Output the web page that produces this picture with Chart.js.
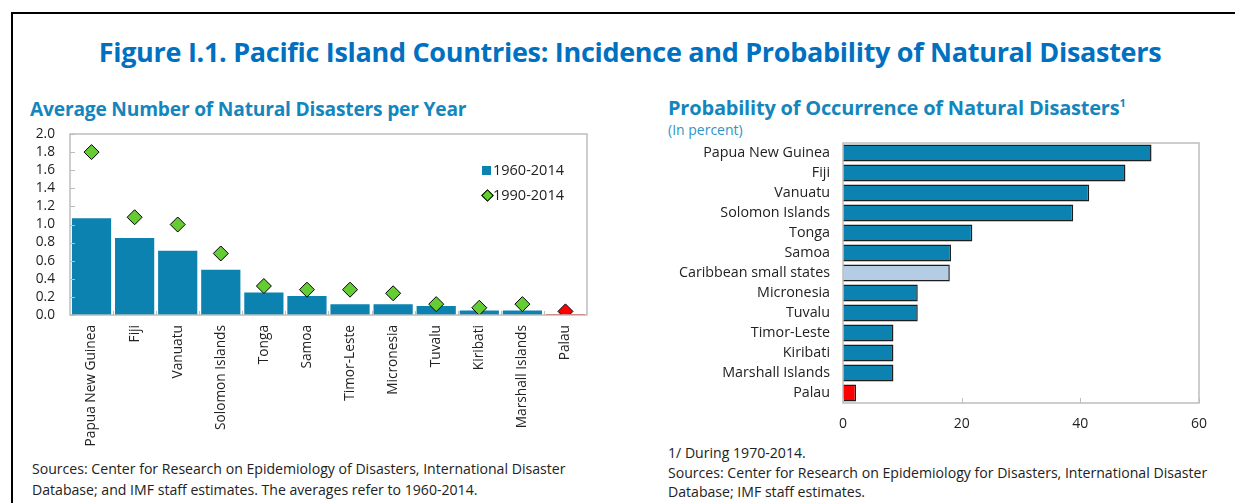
<!DOCTYPE html>
<html>
<head>
<meta charset="utf-8">
<script src="https://cdn.jsdelivr.net/npm/chart.js@4.4.1/dist/chart.umd.min.js"></script>
<style>
  html, body { margin:0; padding:0; background:#fff; }
  body { width:1235px; height:503px; position:relative; overflow:hidden; font-family:"Open Sans", "Noto Sans", sans-serif; }
  .frameTop { position:absolute; left:11px; top:12px; width:1224px; height:2px; background:#000; }
  .frameLeft { position:absolute; left:11px; top:12px; width:2px; height:491px; background:#000; }
  .t { position:absolute; white-space:nowrap; }
  #mainTitle { left:0; width:1260px; text-align:center; top:33px; font-size:27px; font-weight:700; color:#0070C0; letter-spacing:-0.3px; }
  .sub { font-weight:700; color:#1486BE; letter-spacing:-0.2px; }
  .sub sup { font-size:11px; vertical-align:8px; }
  #unit { left:668px; top:120px; font-size:14px; color:#2E95C4; }
  .note { font-size:14.1px; color:#222; }
  canvas { position:absolute; }
  #legend { position:absolute; left:480px; top:160px; font-size:14.5px; color:#222; white-space:nowrap; width:110px; }
  .lg { position:relative; height:25px; line-height:20px; }
  .sq { position:absolute; left:2px; top:6px; width:9px; height:9px; background:#0B82B0; }
  .dm { position:absolute; left:3px; top:6px; width:7px; height:7px; background:#66CC33; border:1px solid #000; transform:rotate(45deg); }
  .lt { position:absolute; left:13px; top:0; }
</style>
</head>
<body>
<div class="frameTop"></div>
<div class="frameLeft"></div>
<div id="mainTitle" class="t">Figure I.1. Pacific Island Countries: Incidence and Probability of Natural Disasters</div>
<div class="t sub" style="left:30px; top:95px; font-size:19.2px;">Average Number of Natural Disasters per Year</div>
<div class="t sub" style="left:668px; top:94px; font-size:20px;">Probability of Occurrence of Natural Disasters<sup>1</sup></div>
<div id="unit" class="t">(In percent)</div>

<canvas id="c1" width="600" height="330" style="left:0px; top:120px;"></canvas>
<canvas id="c2" width="580" height="305" style="left:640px; top:135px;"></canvas>

<div id="legend">
  <div class="lg"><span class="sq"></span><span class="lt" id="lg1"></span></div>
  <div class="lg"><span class="dm"></span><span class="lt" id="lg2"></span></div>
</div>

<div class="t note" style="left:32px; top:459px;">Sources: Center for Research on Epidemiology of Disasters, International Disaster</div>
<div class="t note" style="left:32px; top:480px;">Database; and IMF staff estimates. The averages refer to 1960-2014.</div>
<div class="t note" style="left:668px; top:443px;">1/ During 1970-2014.</div>
<div class="t note" style="left:668px; top:463px;">Sources: Center for Research on Epidemiology for Disasters, International Disaster</div>
<div class="t note" style="left:668px; top:482px;">Database; IMF staff estimates.</div>

<script>
// ---------- Data ----------
const countries = ["Papua New Guinea","Fiji","Vanuatu","Solomon Islands","Tonga","Samoa","Timor-Leste","Micronesia","Tuvalu","Kiribati","Marshall Islands","Palau"];
const avg1960_2014 = [1.07, 0.85, 0.71, 0.50, 0.25, 0.21, 0.12, 0.12, 0.10, 0.05, 0.05, 0.01];
const avg1990_2014 = [1.80, 1.08, 1.00, 0.68, 0.32, 0.28, 0.28, 0.24, 0.12, 0.08, 0.12, 0.04];
const seriesNames = ["1960-2014", "1990-2014"];
const yTicksLeft = [0.0, 0.2, 0.4, 0.6, 0.8, 1.0, 1.2, 1.4, 1.6, 1.8, 2.0];

const probCountries = ["Papua New Guinea","Fiji","Vanuatu","Solomon Islands","Tonga","Samoa","Caribbean small states","Micronesia","Tuvalu","Timor-Leste","Kiribati","Marshall Islands","Palau"];
const probability = [52.0, 47.6, 41.5, 38.8, 21.8, 18.2, 18.0, 12.6, 12.6, 8.5, 8.5, 8.5, 2.2];
const xTicksRight = [0, 20, 40, 60];

// ---------- Styles ----------
const BLUE = "#0B82B0", RED = "#FF0000", GREEN = "#66CC33", LIGHT = "#B4CDE4";
const FAM = "'Open Sans', 'Noto Sans', sans-serif";
const TXT = "#222";

document.getElementById("lg1").textContent = seriesNames[0];
document.getElementById("lg2").textContent = seriesNames[1];

function noPad(s) { s.paddingTop = 0; s.paddingBottom = 0; s.paddingLeft = 0; s.paddingRight = 0; }

const decor = {
  id: "decor",
  afterDraw(chart, args, opts) {
    const { ctx, chartArea: a } = chart;
    ctx.save();
    ctx.strokeStyle = "#BDBDBD";
    ctx.lineWidth = 1.5;
    ctx.strokeRect(a.left, a.top, a.right - a.left, a.bottom - a.top);
    ctx.lineWidth = 1;
    if (opts.yTicks) {
      const ys = chart.scales.y;
      ys.ticks.forEach((t, i) => {
        const p = Math.round(ys.getPixelForTick(i)) + 0.5;
        ctx.beginPath(); ctx.moveTo(a.left, p); ctx.lineTo(a.left + 5, p); ctx.stroke();
      });
    }
    if (opts.xCatTicks) {
      const xs = chart.scales.x;
      const n = xs.ticks.length;
      const w = (a.right - a.left) / n;
      for (let i = 1; i < n; i++) {
        const p = Math.round(xs.getPixelForTick(i) - w / 2) + 0.5;
        ctx.beginPath(); ctx.moveTo(p, a.bottom); ctx.lineTo(p, a.bottom - 4); ctx.stroke();
      }
    }
    if (opts.xValTicks) {
      const xs = chart.scales.x;
      xs.ticks.forEach((t, i) => {
        const p = Math.round(xs.getPixelForTick(i)) + 0.5;
        ctx.beginPath(); ctx.moveTo(p, a.bottom); ctx.lineTo(p, a.bottom - 5); ctx.stroke();
      });
    }
    ctx.restore();
  }
};

// ---------- Left chart ----------
new Chart(document.getElementById("c1"), {
  type: "bar",
  data: {
    labels: countries,
    datasets: [
      {
        type: "line",
        label: seriesNames[1],
        data: avg1990_2014,
        showLine: false,
        pointStyle: "rectRot",
        pointRadius: 7.5,
        pointBackgroundColor: countries.map((c, i) => i === countries.length - 1 ? RED : GREEN),
        pointBorderColor: "#000",
        pointBorderWidth: 1,
        order: 0
      },
      {
        label: seriesNames[0],
        data: avg1960_2014,
        backgroundColor: countries.map((c, i) => i === countries.length - 1 ? RED : BLUE),
        barPercentage: 0.91,
        categoryPercentage: 1.0,
        order: 1
      }
    ]
  },
  options: {
    responsive: false,
    animation: false,
    layout: { padding: { top: 14, right: 13, left: 0, bottom: 0 } },
    plugins: { legend: { display: false }, tooltip: { enabled: false }, decor: { yTicks: true, xCatTicks: true } },
    scales: {
      x: {
        grid: { display: false, drawTicks: false },
        border: { display: false },
        ticks: { minRotation: 90, maxRotation: 90, autoSkip: false, font: { family: FAM, size: 13.7 }, color: TXT, padding: 10 },
        afterFit(s) { s.height = 135; noPad(s); }
      },
      y: {
        min: 0, max: 2,
        afterBuildTicks(s) { s.ticks = yTicksLeft.map(v => ({ value: v })); },
        grid: { display: false, drawTicks: false },
        border: { display: false },
        ticks: { autoSkip: false, font: { family: FAM, size: 13.7 }, color: TXT, padding: 15, callback: v => Number(v).toFixed(1) },
        afterFit(s) { s.width = 70; noPad(s); }
      }
    }
  },
  plugins: [decor]
});

// ---------- Right chart ----------
new Chart(document.getElementById("c2"), {
  type: "bar",
  data: {
    labels: probCountries,
    datasets: [{
      data: probability,
      backgroundColor: probCountries.map(c => c === "Palau" ? RED : (c === "Caribbean small states" ? LIGHT : BLUE)),
      borderColor: "#1E1E1E",
      borderWidth: 1.5,
      barPercentage: 0.85,
      categoryPercentage: 1.0
    }]
  },
  options: {
    indexAxis: "y",
    responsive: false,
    animation: false,
    layout: { padding: { top: 8, right: 21, left: 0, bottom: 0 } },
    plugins: { legend: { display: false }, tooltip: { enabled: false }, decor: { xValTicks: true } },
    scales: {
      x: {
        min: 0, max: 60,
        afterBuildTicks(s) { s.ticks = xTicksRight.map(v => ({ value: v })); },
        grid: { display: false, drawTicks: false },
        border: { display: false },
        ticks: { autoSkip: false, font: { family: FAM, size: 14 }, color: TXT, padding: 13 },
        afterFit(s) { s.height = 37; noPad(s); }
      },
      y: {
        grid: { display: false, drawTicks: false },
        border: { display: false },
        ticks: { font: { family: FAM, size: 14.3 }, color: TXT, padding: 13, autoSkip: false },
        afterFit(s) { s.width = 203; noPad(s); }
      }
    }
  },
  plugins: [decor]
});
</script>
</body>
</html>
